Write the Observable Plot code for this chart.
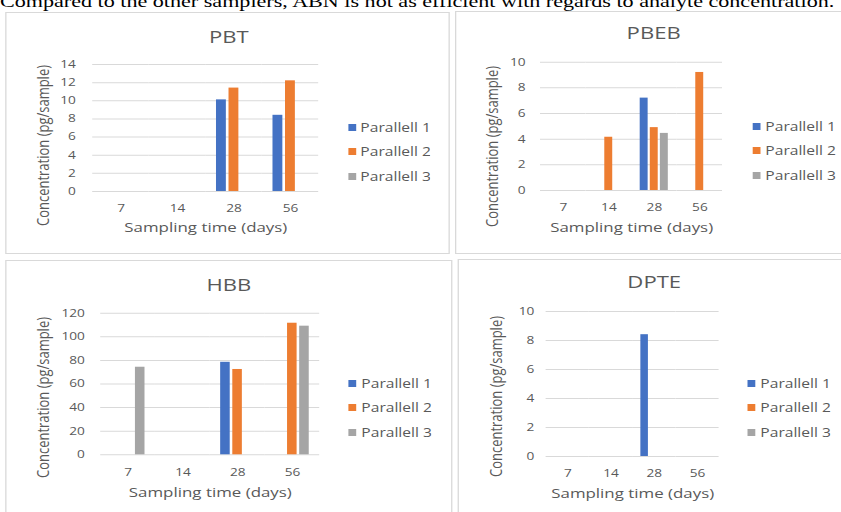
<!DOCTYPE html>
<html>
<head>
<meta charset="utf-8">
<script src="https://cdn.jsdelivr.net/npm/d3@7"></script>
<script src="https://cdn.jsdelivr.net/npm/@observablehq/plot@0.6"></script>
<style>
  html, body { margin: 0; padding: 0; background: #fff; overflow: hidden; }
  #page { position: relative; height: 512px; transform-origin: 0 0; }
  .intro { position: absolute; left: 0; top: -7.25px; font: 17px "Liberation Serif", "Times New Roman", serif; color: #000; white-space: nowrap; line-height: 1; }
  .panel { position: absolute; box-sizing: border-box; border: 1px solid #d9d9d9; background: #fff; }
  #page svg { position: absolute; }
  #page div.lg-swatches { position: absolute; margin: 0; font: 12px "Open Sans", sans-serif; color: #595959; }
  #page div.lg-swatch { height: 24.5px; padding-bottom: 0; display: flex; align-items: center; }
  #page div.lg-swatch > svg { position: static; margin-right: 3.5px; }
</style>
</head>
<body>
<div id="page"></div>
<script>
// Sampling days and replicate series
const days = [7, 14, 28, 56];
const series = ["Parallell 1", "Parallell 2", "Parallell 3"];
const colors = ["#4472C4", "#ED7D31", "#A5A5A5"];

// Concentrations (pg/sample) per day; null = not detected
const pbtP1 = [null, null, 10.1, 8.4];
const pbtP2 = [null, null, 11.4, 12.2];
const pbtP3 = [null, null, null, null];
const pbtTicks = [0, 2, 4, 6, 8, 10, 12, 14];

const pbebP1 = [null, null, 7.2, null];
const pbebP2 = [null, 4.15, 4.9, 9.2];
const pbebP3 = [null, null, 4.45, null];
const pbebTicks = [0, 2, 4, 6, 8, 10];

const hbbP1 = [null, null, 78.4, null];
const hbbP2 = [null, null, 72.3, 111.5];
const hbbP3 = [74.2, null, null, 109];
const hbbTicks = [0, 20, 40, 60, 80, 100, 120];

const dpteP1 = [null, null, 8.4, null];
const dpteP2 = [null, null, null, null];
const dpteP3 = [null, null, null, null];
const dpteTicks = [0, 2, 4, 6, 8, 10];

const introText = "Compared to the other samplers, ABN is not as efficient with regards to analyte concentration.";
const xTitle = "Sampling time (days)";
const yTitle = "Concentration (pg/sample)";

// Horizontal stretch of the whole sheet
const S = 1.3;
const X = v => v / S;
const FONT = '"Open Sans", sans-serif';

const page = document.getElementById("page");
page.style.width = X(841) + "px";
page.style.transform = `scaleX(${S})`;

const intro = document.createElement("div");
intro.className = "intro";
intro.textContent = introText;
page.appendChild(intro);

// Panel layouts in sheet pixels: box, plot frame, tick/title anchors, legend origin
const layouts = {
  PBT:  {box: [5, 12, 450, 254],  plot: [92, 64, 318, 191],    yTickRight: 75,  xTickCy: 208, xTitleCy: 228, yTitleC: [43, 145],  titleC: [228, 37],  legend: [348, 127]},
  PBEB: {box: [455, 11, 846, 254], plot: [540, 61.7, 722, 190], yTickRight: 525, xTickCy: 207, xTitleCy: 228, yTitleC: [492, 146], titleC: [653, 33],  legend: [753, 126]},
  HBB:  {box: [5, 260, 452, 520], plot: [100, 312.7, 319, 454.3], yTickRight: 84, xTickCy: 472, xTitleCy: 493, yTitleC: [43, 397],  titleC: [228, 285], legend: [349, 383]},
  DPTE: {box: [457, 259, 846, 520], plot: [545, 311, 718, 456], yTickRight: 533, xTickCy: 473, xTitleCy: 494, yTitleC: [495, 396], titleC: [653, 282], legend: [748, 383]}
};

function drawPanel(name, values, yTicks) {
  const L = layouts[name];
  const rows = [];
  series.forEach((s, i) => days.forEach((d, j) => rows.push({day: d, series: s, value: values[i][j]})));

  const [bx0, by0, bx1, by1] = L.box;
  const [px0, py0, px1, py1] = L.plot;
  const plotCx = (px0 + px1) / 2, plotCy = (py0 + py1) / 2;

  const frame = document.createElement("div");
  frame.className = "panel";
  Object.assign(frame.style, {left: X(bx0) + "px", top: by0 + "px", width: X(bx1 - bx0) + "px", height: (by1 - by0) + "px"});
  page.appendChild(frame);

  const label = {facet: "super", text: d => d, textAnchor: "middle", lineAnchor: "middle", fill: "#595959"};

  const chart = Plot.plot({
    width: X(bx1 - bx0),
    height: by1 - by0,
    marginLeft: X(px0 - bx0),
    marginRight: X(bx1 - px1),
    marginTop: py0 - by0,
    marginBottom: by1 - py1,
    style: {fontFamily: FONT, fontSize: "10.5px", color: "#595959", background: "transparent", overflow: "visible"},
    fx: {domain: days, padding: 0, round: false, axis: "bottom", tickSize: 0, tickPadding: L.xTickCy - 3.7 - py1, label: null},
    x: {domain: series, axis: null, paddingInner: 0.2126, paddingOuter: 0.862, round: false},
    y: {domain: [0, yTicks[yTicks.length - 1]], ticks: yTicks, tickSize: 0, tickPadding: X(px0 - L.yTickRight), label: null},
    color: {domain: series, range: colors},
    marks: [
      Plot.ruleY(yTicks, {stroke: "#d9d9d9", strokeWidth: 1}),
      Plot.barY(rows, {fx: "day", x: "series", y1: 0, y2: "value", fill: "series"}),
      Plot.text([name], {...label, frameAnchor: "top", dx: X(L.titleC[0] - plotCx), dy: L.titleC[1] - py0, fontSize: 17}),
      Plot.text([xTitle], {...label, frameAnchor: "bottom", dy: L.xTitleCy - py1 - 1, fontSize: 13}),
      Plot.text([yTitle], {...label, frameAnchor: "left", rotate: -90, dx: X(L.yTitleC[0] - px0), dy: L.yTitleC[1] - plotCy, fontSize: 13})
    ]
  });
  chart.style.left = X(bx0) + "px";
  chart.style.top = by0 + "px";
  page.appendChild(chart);

  const legend = Plot.legend({
    color: {domain: series, range: colors},
    legend: "swatches",
    columns: 1,
    swatchWidth: 6,
    swatchHeight: 7,
    className: "lg"
  });
  legend.style.left = X(L.legend[0]) + "px";
  legend.style.top = (L.legend[1] - 12.25) + "px";
  page.appendChild(legend);
}

drawPanel("PBT", [pbtP1, pbtP2, pbtP3], pbtTicks);
drawPanel("PBEB", [pbebP1, pbebP2, pbebP3], pbebTicks);
drawPanel("HBB", [hbbP1, hbbP2, hbbP3], hbbTicks);
drawPanel("DPTE", [dpteP1, dpteP2, dpteP3], dpteTicks);
</script>
</body>
</html>
